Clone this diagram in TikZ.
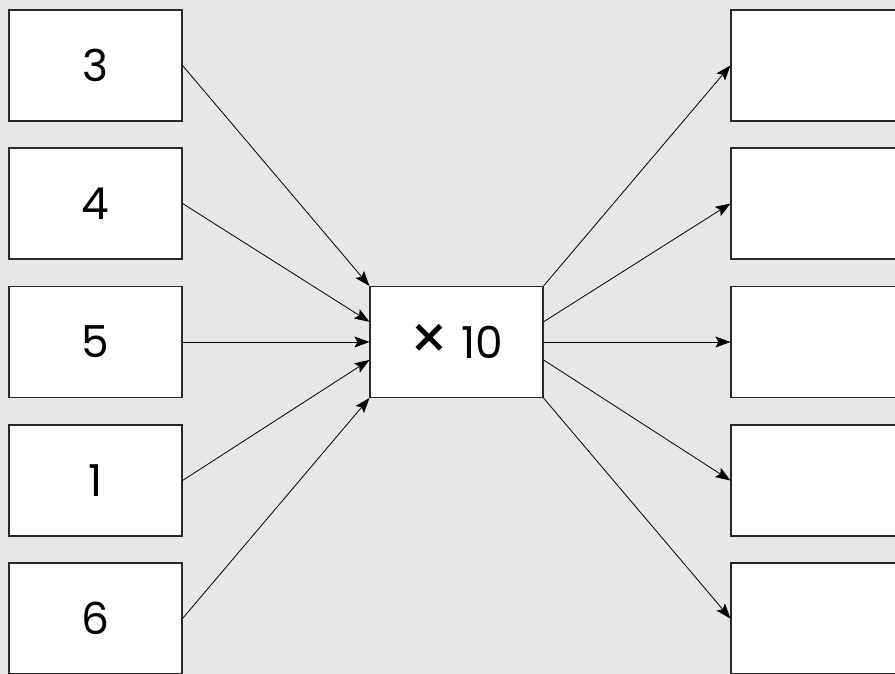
\documentclass[tikz,border=0pt]{standalone}
\usepackage{fontspec}
\setmainfont{Poppins}
\usetikzlibrary{arrows.meta,calc}
\definecolor{panelgray}{RGB}{230,231,233}
\definecolor{boxline}{RGB}{40,40,40}
\tikzset{
  numbox/.style={draw=boxline,fill=white,line width=1.1pt,minimum width=173pt,
    minimum height=111pt,inner sep=0pt,font=\fontsize{44}{48}\selectfont},
  feed/.style={->,line width=0.8pt,black}
}

\begin{document}
\begin{tikzpicture}[x=1pt,y=-1pt,>={Stealth[length=15pt,width=11pt,inset=3pt]}]
  \useasboundingbox (0,0) rectangle (895,674);
  \fill[panelgray] (0,0) rectangle (895,674);
  \clip (0,0) rectangle (895,674);
  % input boxes
  \node[numbox] (in1) at (95.5,65.5) {3};
  \node[numbox] (in2) at (95.5,203.5) {4};
  \node[numbox] (in3) at (95.5,342) {5};
  \node[numbox] (in4) at (95.5,480.5) {1};
  \node[numbox] (in5) at (95.5,618.5) {6};
  % machine
  \node[numbox] (rule) at (456.5,342) {{\fontsize{62}{62}\selectfont\raisebox{-2pt}{×}} 10};
  % empty output boxes
  \node[numbox] (out1) at (817.5,65.5) {};
  \node[numbox] (out2) at (817.5,203.5) {};
  \node[numbox] (out3) at (817.5,342) {};
  \node[numbox] (out4) at (817.5,480.5) {};
  \node[numbox] (out5) at (817.5,618.5) {};
  \coordinate (ruleinA) at ($(rule.north west)!0.32!(rule.south west)$);
  \coordinate (ruleinB) at ($(rule.north west)!0.66!(rule.south west)$);
  \coordinate (ruleoutA) at ($(rule.north east)!0.32!(rule.south east)$);
  \coordinate (ruleoutB) at ($(rule.north east)!0.66!(rule.south east)$);
  \draw[feed] (in1.east) -- (rule.north west);
  \draw[feed] (in2.east) -- (ruleinA);
  \draw[feed] (in3.east) -- (rule.west);
  \draw[feed] (in4.east) -- (ruleinB);
  \draw[feed] (in5.east) -- (rule.south west);
  \draw[feed] (rule.north east) -- (out1.west);
  \draw[feed] (ruleoutA) -- (out2.west);
  \draw[feed] (rule.east) -- (out3.west);
  \draw[feed] (ruleoutB) -- (out4.west);
  \draw[feed] (rule.south east) -- (out5.west);
\end{tikzpicture}
\end{document}
